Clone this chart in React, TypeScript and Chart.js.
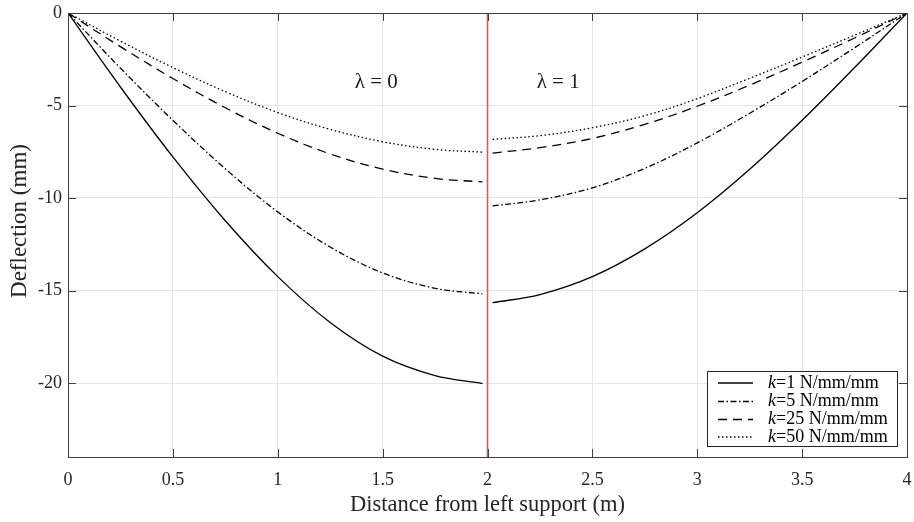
import React, { useEffect, useRef } from 'react';
import { Chart, registerables } from 'chart.js';

Chart.register(...registerables);

// ---- data ----
const leftX = [0, 0.25, 0.5, 0.75, 1, 1.25, 1.5, 1.75, 1.976];
const rightX = [2.024, 2.25, 2.5, 2.75, 3, 3.25, 3.5, 3.75, 4];

const k1Left = [0, -4.0, -7.78, -11.23, -14.25, -16.73, -18.55, -19.6, -20.03];
const k5Left = [0, -2.98, -5.8, -8.42, -10.75, -12.65, -14.05, -14.88, -15.18];
const k25Left = [0, -1.82, -3.54, -5.12, -6.5, -7.62, -8.44, -8.94, -9.13];
const k50Left = [0, -1.52, -2.95, -4.25, -5.38, -6.29, -6.96, -7.37, -7.52];

const k1Right = [-15.66, -15.22, -14.25, -12.75, -10.8, -8.45, -5.8, -2.95, 0];
const k5Right = [-10.43, -10.1, -9.45, -8.4, -7.02, -5.42, -3.7, -1.88, 0];
const k25Right = [-7.57, -7.28, -6.78, -6.02, -5.04, -3.9, -2.66, -1.35, 0];
const k50Right = [-6.83, -6.63, -6.2, -5.55, -4.63, -3.53, -2.38, -1.2, 0];

const kValues = ['1', '5', '25', '50'];
const xTicks = [0, 0.5, 1, 1.5, 2, 2.5, 3, 3.5, 4];
const yTicks = [-20, -15, -10, -5, 0];
const supportX = 2;
const lambdaLabels = ['λ = 0', 'λ = 1'];
const lambdaX = [1.47, 2.337];
const lambdaY = -3.75;
const xTitle = 'Distance from left support (m)';
const yTitle = 'Deflection (mm)';

const FONT = '"Liberation Serif", "Times New Roman", serif';
const dashes: number[][] = [[], [6, 2.5, 1.5, 2.5], [9, 6], [1.5, 2.5]];

export default function App() {
  const ref = useRef<HTMLCanvasElement>(null);
  useEffect(() => {
    document.body.style.margin = '0';
    const canvas = ref.current!;
    const lefts = [k1Left, k5Left, k25Left, k50Left];
    const rights = [k1Right, k5Right, k25Right, k50Right];
    const mk = (xs: number[], ys: number[]) => xs.map((x, i) => ({ x, y: ys[i] }));
    const datasets: any[] = [];
    kValues.forEach((k, i) => {
      [
        [leftX, lefts[i]],
        [rightX, rights[i]],
      ].forEach(([xs, ys]) => {
        datasets.push({
          label: 'k=' + k,
          data: mk(xs as number[], ys as number[]),
          showLine: true,
          borderColor: '#000',
          borderWidth: 1.3,
          borderDash: dashes[i],
          pointRadius: 0,
          tension: 0.35,
          fill: false,
        });
      });
    });
    datasets.push({
      label: 'support',
      data: [
        { x: supportX, y: 0 },
        { x: supportX, y: -24 },
      ],
      showLine: true,
      borderColor: '#e5584c',
      borderWidth: 1.6,
      pointRadius: 0,
    });

    const framePlugin = {
      id: 'frame',
      afterDraw(chart: any) {
        const { ctx, chartArea: a, scales } = chart;
        const xs = scales.x;
        const ys = scales.y;
        ctx.save();
        ctx.strokeStyle = '#404040';
        ctx.lineWidth = 1;
        ctx.setLineDash([]);
        ctx.strokeRect(Math.round(a.left) + 0.5, Math.round(a.top) + 0.5, Math.round(a.right - a.left), Math.round(a.bottom - a.top));
        const tl = 8;
        ctx.beginPath();
        xTicks.forEach((v) => {
          const px = Math.round(xs.getPixelForValue(v)) + 0.5;
          ctx.moveTo(px, a.bottom);
          ctx.lineTo(px, a.bottom - tl);
          ctx.moveTo(px, a.top);
          ctx.lineTo(px, a.top + tl);
        });
        yTicks.forEach((v) => {
          const py = Math.round(ys.getPixelForValue(v)) + 0.5;
          ctx.moveTo(a.left, py);
          ctx.lineTo(a.left + tl, py);
          ctx.moveTo(a.right, py);
          ctx.lineTo(a.right - tl, py);
        });
        ctx.stroke();

        // y axis title
        ctx.save();
        ctx.translate(20, 221);
        ctx.rotate(-Math.PI / 2);
        ctx.fillStyle = '#262626';
        ctx.font = `23px ${FONT}`;
        ctx.textAlign = 'center';
        ctx.textBaseline = 'middle';
        ctx.fillText(yTitle, 0, 0);
        ctx.restore();

        // lambda annotations
        ctx.fillStyle = '#1a1a1a';
        ctx.font = `21px ${FONT}`;
        ctx.textAlign = 'center';
        ctx.textBaseline = 'middle';
        lambdaLabels.forEach((t, i) => {
          ctx.fillText(t, xs.getPixelForValue(lambdaX[i]), ys.getPixelForValue(lambdaY));
        });

        // legend
        const bx = 707.5, by = 371.5, bw = 190, bh = 75;
        ctx.fillStyle = '#fff';
        ctx.fillRect(bx, by, bw, bh);
        ctx.strokeStyle = '#262626';
        ctx.lineWidth = 1;
        ctx.strokeRect(bx, by, bw, bh);
        const rowY = [383, 401.5, 419.5, 437];
        kValues.forEach((k, i) => {
          const y = rowY[i];
          ctx.strokeStyle = '#000';
          ctx.lineWidth = 1.3;
          ctx.setLineDash(dashes[i]);
          ctx.beginPath();
          ctx.moveTo(718, y);
          ctx.lineTo(753, y);
          ctx.stroke();
          ctx.setLineDash([]);
          ctx.fillStyle = '#000';
          ctx.textAlign = 'left';
          ctx.textBaseline = 'middle';
          ctx.font = `italic 18px ${FONT}`;
          ctx.fillText('k', 768, y);
          const w = ctx.measureText('k').width;
          ctx.font = `18px ${FONT}`;
          ctx.fillText('=' + k + ' N/mm/mm', 768 + w, y);
        });
        ctx.restore();
      },
    };

    const tickFont = { family: FONT, size: 18 };
    const chart = new Chart(canvas, {
      type: 'scatter',
      data: { datasets },
      options: {
        animation: false,
        responsive: false,
        events: [],
        layout: { padding: { top: 13, right: 7, left: 0, bottom: 0 } },
        plugins: { legend: { display: false }, tooltip: { enabled: false } },
        scales: {
          x: {
            type: 'linear',
            min: 0,
            max: 4,
            afterBuildTicks: (s: any) => {
              s.ticks = xTicks.map((v) => ({ value: v }));
            },
            afterFit: (s: any) => {
              s.height = 65;
            },
            ticks: { font: tickFont, color: '#262626', padding: 0, maxRotation: 0, callback: (v: any) => String(v) },
            grid: { color: '#e6e6e6', drawTicks: true, tickLength: 12, tickColor: 'rgba(0,0,0,0)' },
            border: { display: false },
            title: {
              display: true,
              text: xTitle,
              font: { family: FONT, size: 22.5 },
              color: '#262626',
              padding: { top: 0, bottom: 3 },
            },
          },
          y: {
            type: 'linear',
            min: -24,
            max: 0,
            afterBuildTicks: (s: any) => {
              s.ticks = yTicks.map((v) => ({ value: v }));
            },
            afterFit: (s: any) => {
              s.width = 68;
            },
            ticks: { font: tickFont, color: '#262626', padding: 0, callback: (v: any) => String(v) },
            grid: { color: '#e6e6e6', drawTicks: true, tickLength: 6, tickColor: 'rgba(0,0,0,0)' },
            border: { display: false },
            title: { display: false },
          },
        },
      },
      plugins: [framePlugin],
    } as any);
    return () => chart.destroy();
  }, []);
  return (
    <div style={{ width: 914, height: 522 }}>
      <canvas ref={ref} width={914} height={522} />
    </div>
  );
}
